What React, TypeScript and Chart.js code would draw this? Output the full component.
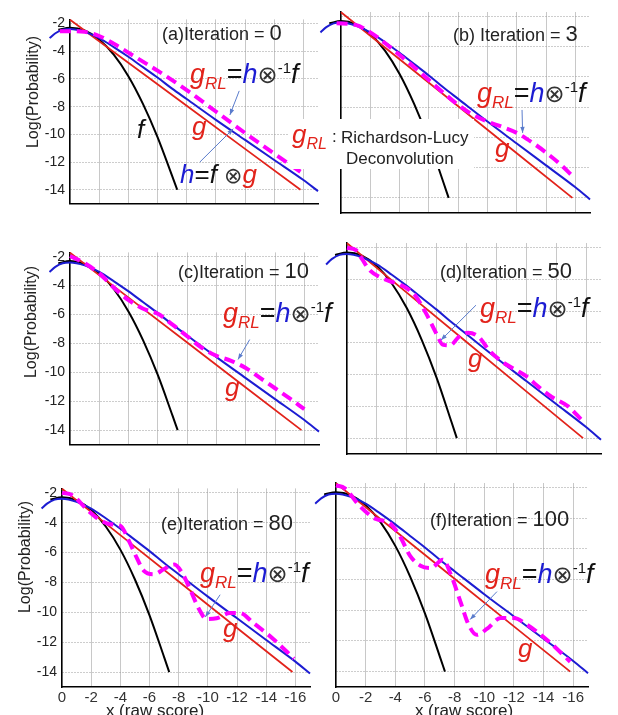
import React, { useEffect, useRef } from 'react';
import { Chart, registerables } from 'chart.js';
Chart.register(...registerables);

const RED = '#e2231b';
const BLUE = '#1c1cd2';
const MAG = '#ff00ff';
const ARROW = '#5a7ccc';
const FONT = '"Liberation Sans", Arial, "DejaVu Sans", sans-serif';

// tick labels
const xTickValues = [0, -2, -4, -6, -8, -10, -12, -14, -16];
const yTickValues = [-2, -4, -6, -8, -10, -12, -14];

// f : measured score distribution (black)
const fX = [0.8, 0, -1, -2, -3, -4, -5, -6, -7, -7.35];
const fY = [-2.45, -2.3, -2.5, -3.15, -4.25, -5.8, -7.8, -10.2, -13.0, -14.0];
// g : true distribution (red line)
const gX = [0, -4, -8, -12, -15.8];
const gY = [-1.72, -4.83, -7.94, -11.05, -14.0];
// h = f (x) g (blue)
const hX = [1.4, 1.0, 0.5, 0, -1, -2, -3, -4, -5, -6, -7, -8, -10, -12, -14, -16, -17];
const hY = [-3.05, -2.7, -2.45, -2.4, -2.6, -3.05, -3.7, -4.4, -5.15, -5.9, -6.7, -7.45, -8.95, -10.4, -11.85, -13.3, -14.1];

// g_RL after n iterations (magenta dashed)
const rl0X = [0.7, 0, -1, -2, -3, -4, -5, -6, -8, -10, -12, -14, -15.8];
const rl0Y = [-2.55, -2.55, -2.6, -2.9, -3.45, -4.1, -4.75, -5.4, -6.8, -8.35, -9.9, -11.4, -12.7];
const rl3X = [0.3, -1, -2, -3, -4, -5, -6, -7, -8, -9, -10, -11, -12, -13, -14, -15, -15.8];
const rl3Y = [-2.45, -2.55, -3.05, -3.75, -4.55, -5.35, -6.2, -7.05, -7.85, -8.5, -8.95, -9.3, -9.7, -10.3, -11.0, -11.8, -12.55];
const rl10X = [0, -1, -2, -3, -4, -5, -6, -7, -8, -9, -10, -11, -12, -13, -14, -15, -16];
const rl10Y = [-1.95, -2.45, -3.15, -4.15, -5.0, -5.6, -5.95, -6.7, -7.5, -8.3, -8.85, -9.2, -9.7, -10.4, -11.1, -11.8, -12.55];
const rl50X = [0, -0.6, -1, -1.5, -2.2, -3, -4, -4.6, -5.3, -6, -6.4, -6.9, -7.5, -8.1, -8.8, -9.5, -10.4, -11.3, -12, -12.8, -13.7, -14.8, -15.7];
const rl50Y = [-2.0, -2.15, -2.7, -3.4, -3.85, -4.15, -4.55, -5.05, -6.15, -7.45, -8.1, -8.15, -7.6, -7.35, -7.6, -8.45, -9.2, -9.7, -10.1, -10.75, -11.4, -12.0, -12.85];
const rl80X = [0, -0.7, -1.7, -2.5, -3.3, -4.0, -4.6, -5.1, -5.6, -6.3, -7.0, -7.7, -8.2, -8.8, -9.4, -9.9, -10.6, -11.5, -12.2, -13.1, -14.5, -15.9];
const rl80Y = [-2.0, -2.15, -3.1, -3.75, -4.1, -4.2, -5.25, -6.3, -7.2, -7.45, -7.1, -6.8, -7.3, -8.5, -9.8, -10.45, -10.4, -10.05, -10.05, -10.7, -11.8, -13.1];
const rl100X = [0, -0.6, -1.6, -2.7, -3.6, -4.3, -5.0, -5.7, -6.4, -7.2, -7.8, -8.4, -8.95, -9.5, -10.2, -11.1, -12.0, -12.9, -14.2, -15.8];
const rl100Y = [-1.85, -2.05, -3.2, -4.05, -4.3, -5.15, -6.45, -7.1, -7.25, -6.7, -7.8, -9.45, -10.95, -11.6, -11.2, -10.5, -10.5, -10.95, -11.9, -13.35];

// annotation arrows [fromX, fromY, toX, toY] in data units
const arrowsA = [[-11.6, -6.86, -10.96, -8.6], [-8.9, -12.0, -11.19, -9.6]];
const arrowsB = [[-12.36, -8.18, -12.4, -9.7]];
const arrowsC = [[-12.27, -7.73, -11.47, -9.11]];
const arrowsD = [[-8.63, -5.62, -6.29, -7.82]];
const arrowsE = [[-10.84, -8.82, -9.82, -10.32]];
const arrowsF = [[-10.86, -8.78, -9.05, -10.6]];

type Spec = {
  left: number; top: number; right: number; bottom: number;
  showY: boolean; showX: boolean;
  rx: number[]; ry: number[]; arrows: number[][];
};

const specs: Spec[] = [
  { left: 70, top: 12, right: 318, bottom: 213, showY: true, showX: false, rx: rl0X, ry: rl0Y, arrows: arrowsA },
  { left: 341, top: 12, right: 590, bottom: 213, showY: false, showX: false, rx: rl3X, ry: rl3Y, arrows: arrowsB },
  { left: 70, top: 245, right: 319, bottom: 454, showY: true, showX: false, rx: rl10X, ry: rl10Y, arrows: arrowsC },
  { left: 347, top: 243, right: 601, bottom: 454, showY: false, showX: false, rx: rl50X, ry: rl50Y, arrows: arrowsD },
  { left: 62, top: 481, right: 310, bottom: 687, showY: true, showX: true, rx: rl80X, ry: rl80Y, arrows: arrowsE },
  { left: 336, top: 483, right: 588, bottom: 687, showY: false, showX: true, rx: rl100X, ry: rl100Y, arrows: arrowsF },
];

const arrowPlugin = {
  id: 'arrows',
  afterDatasetsDraw(chart: any, _args: any, opts: any) {
    const items: number[][] = opts.items || [];
    const { ctx } = chart;
    const xs = chart.scales.x, ys = chart.scales.y;
    ctx.save();
    ctx.strokeStyle = opts.color;
    ctx.fillStyle = opts.color;
    ctx.lineWidth = 1;
    for (const a of items) {
      const x1 = xs.getPixelForValue(a[0]), y1 = ys.getPixelForValue(a[1]);
      const x2 = xs.getPixelForValue(a[2]), y2 = ys.getPixelForValue(a[3]);
      ctx.beginPath(); ctx.moveTo(x1, y1); ctx.lineTo(x2, y2); ctx.stroke();
      const ang = Math.atan2(y2 - y1, x2 - x1);
      const c = Math.cos(ang), s = Math.sin(ang), L = 6, W = 2.2;
      ctx.beginPath();
      ctx.moveTo(x2, y2);
      ctx.lineTo(x2 - L * c + W * s, y2 - L * s - W * c);
      ctx.lineTo(x2 - L * c - W * s, y2 - L * s + W * c);
      ctx.closePath(); ctx.fill();
    }
    ctx.restore();
  },
};

const pts = (xs: number[], ys: number[]) => xs.map((x, i) => ({ x, y: ys[i] }));

function makeConfig(spec: Spec, L: number, T: number, R: number): any {
  return {
    type: 'line',
    data: {
      datasets: [
        { data: pts(spec.rx, spec.ry), borderColor: MAG, borderWidth: 4, borderDash: [11, 6], cubicInterpolationMode: 'monotone', clip: false },
        { data: pts(hX, hY), borderColor: BLUE, borderWidth: 2, cubicInterpolationMode: 'monotone', clip: false },
        { data: pts(gX, gY), borderColor: RED, borderWidth: 1.8, clip: false },
        { data: pts(fX, fY), borderColor: '#000', borderWidth: 2, cubicInterpolationMode: 'monotone', clip: false },
      ],
    },
    plugins: [arrowPlugin],
    options: {
      animation: false,
      responsive: false,
      maintainAspectRatio: false,
      events: [],
      layout: { padding: { left: 0, top: T, right: R, bottom: spec.showX ? 2 : 4 } },
      elements: { point: { radius: 0 }, line: { fill: false, borderCapStyle: 'butt' } },
      plugins: {
        legend: { display: false },
        tooltip: { enabled: false },
        arrows: { items: spec.arrows, color: ARROW },
      },
      scales: {
        x: {
          type: 'linear', reverse: true, min: -17, max: 0,
          afterBuildTicks: (s: any) => { s.ticks = xTickValues.map((v) => ({ value: v })); },
          afterFit: (s: any) => { s.height = spec.showX ? 24 : 0; },
          ticks: { display: spec.showX, font: { family: FONT, size: 15 }, color: '#333', padding: 2, maxRotation: 0, autoSkip: false, callback: (v: any) => String(v) },
          grid: { color: '#c8c8c8', lineWidth: 1, drawTicks: false },
          border: { display: true, color: '#000', width: 1.5 },
        },
        y: {
          type: 'linear', min: -15, max: -1.7,
          afterBuildTicks: (s: any) => { s.ticks = yTickValues.map((v) => ({ value: v })); },
          afterFit: (s: any) => { s.width = L; },
          ticks: { display: spec.showY, font: { family: FONT, size: 14 }, color: '#222', padding: 5, callback: (v: any) => String(v) },
          grid: { color: '#9a9a9a', lineWidth: 1, drawTicks: false },
          border: { display: true, color: '#000', width: 1.5, dash: [1, 2] },
        },
      },
    },
  };
}

function Panel({ spec }: { spec: Spec }) {
  const ref = useRef<HTMLCanvasElement>(null);
  const L = spec.showY ? 58 : 30;
  const T = 6, R = 4;
  const w = L + (spec.right - spec.left) + R;
  const h = T + (spec.bottom - spec.top) + (spec.showX ? 26 : 4);
  useEffect(() => {
    const chart = new Chart(ref.current as HTMLCanvasElement, makeConfig(spec, L, T, R));
    return () => chart.destroy();
  }, []);
  return (
    <canvas ref={ref} width={w} height={h}
      style={{ position: 'absolute', left: spec.left - L, top: spec.top - T, width: w, height: h }} />
  );
}

function Grl({ x, y }: { x: number; y: number }) {
  return (
    <text x={x} y={y} fontFamily={FONT} fontSize={27}>
      <tspan fill={RED} fontStyle="italic">g</tspan>
      <tspan fill={RED} fontStyle="italic" fontSize={17} dy={6}>RL</tspan>
      <tspan fill="#111" dy={-6}>=</tspan>
      <tspan fill={BLUE} fontStyle="italic">h</tspan>
      <tspan fill="#333" fontSize={24}>⊗</tspan>
      <tspan fill="#111" fontSize={15} dy={-10}>-1</tspan>
      <tspan fill="#111" fontStyle="italic" dy={10}>f</tspan>
    </text>
  );
}

function Iter({ x, y, label, n }: { x: number; y: number; label: string; n: string }) {
  return (
    <text x={x} y={y} fontFamily={FONT} fontSize={18} fill="#222">
      <tspan>{label}</tspan>
      <tspan fontSize={22}>{n}</tspan>
    </text>
  );
}

function RedG({ x, y }: { x: number; y: number }) {
  return <text x={x} y={y} fontFamily={FONT} fontSize={26} fontStyle="italic" fill={RED}>g</text>;
}

function YTitle({ x, y }: { x: number; y: number }) {
  return (
    <text x={0} y={0} transform={`translate(${x},${y}) rotate(-90)`} textAnchor="middle" dominantBaseline="central"
      fontFamily={FONT} fontSize={16} fill="#222">Log(Probability)</text>
  );
}

export default function App() {
  return (
    <div style={{ position: 'absolute', left: 0, top: 0, width: 618, height: 715, overflow: 'hidden', background: '#fff' }}>
      {specs.map((s, i) => <Panel key={i} spec={s} />)}
      <svg width={618} height={715} style={{ position: 'absolute', left: 0, top: 0, pointerEvents: 'none' }}>
        <YTitle x={32} y={92} />
        <YTitle x={30} y={322} />
        <YTitle x={24} y={557} />
        <text x={155} y={716} textAnchor="middle" fontFamily={FONT} fontSize={17} fill="#222">x (raw score)</text>
        <text x={464} y={716} textAnchor="middle" fontFamily={FONT} fontSize={17} fill="#222">x (raw score)</text>

        <Iter x={162} y={40} label="(a)Iteration = " n="0" />
        <Iter x={453} y={40.5} label="(b) Iteration = " n="3" />
        <Iter x={178} y={277.5} label="(c)Iteration = " n="10" />
        <Iter x={440} y={277.5} label="(d)Iteration = " n="50" />
        <Iter x={161} y={530} label="(e)Iteration = " n="80" />
        <Iter x={430} y={525.5} label="(f)Iteration = " n="100" />

        <Grl x={190} y={83} />
        <Grl x={477} y={101.5} />
        <Grl x={223} y={321.5} />
        <Grl x={480} y={316.5} />
        <Grl x={200} y={581.5} />
        <Grl x={485} y={583} />

        <RedG x={192} y={135} />
        <RedG x={495} y={157} />
        <RedG x={225} y={396} />
        <RedG x={468} y={367} />
        <RedG x={223} y={637} />
        <RedG x={518} y={657} />

        <text x={137} y={138} fontFamily={FONT} fontSize={26} fontStyle="italic" fill="#111">f</text>
        <text x={180} y={183} fontFamily={FONT} fontSize={26}>
          <tspan fill={BLUE} fontStyle="italic">h</tspan>
          <tspan fill="#111">=</tspan>
          <tspan fill="#111" fontStyle="italic">f </tspan>
          <tspan fill="#333" fontSize={22}>⊗</tspan>
          <tspan fill={RED} fontStyle="italic">g</tspan>
        </text>

        <rect x={289} y={119} width={185} height={50} fill="#fff" />
        <text x={292} y={143} fontFamily={FONT} fontSize={26} fontStyle="italic" fill={RED}>
          <tspan>g</tspan>
          <tspan fontSize={16} dy={6}>RL</tspan>
        </text>
        <text x={332} y={142} fontFamily={FONT} fontSize={17} fill="#222">:</text>
        <text x={341} y={143} fontFamily={FONT} fontSize={17} fill="#222">Richardson-Lucy</text>
        <text x={346} y={164} fontFamily={FONT} fontSize={17} fill="#222">Deconvolution</text>
      </svg>
    </div>
  );
}
